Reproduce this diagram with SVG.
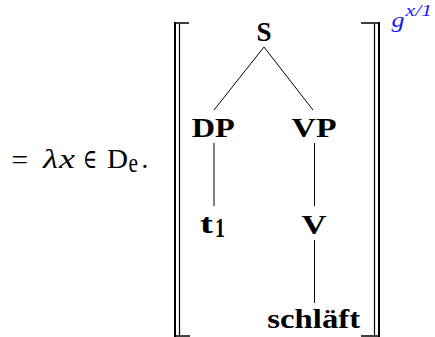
<svg xmlns="http://www.w3.org/2000/svg" width="435" height="337" viewBox="0 0 435 337">
<style>
.m{font-family:"Liberation Serif","DejaVu Serif",serif;fill:#000;font-size:27px}
.b{font-family:"Liberation Serif","DejaVu Serif",serif;font-weight:bold;font-size:28px;fill:#000;text-anchor:middle}
.e{stroke:#000;stroke-width:1;fill:none}
.br{stroke:#000;fill:none;stroke-linecap:butt}
.g{font-family:"Liberation Serif","DejaVu Serif",serif;font-style:italic;fill:#1a1aff}
</style>
<rect width="435" height="337" fill="#fff"/>
<g id="prefix">
<text class="m" x="11.5" y="169" textLength="16.6" lengthAdjust="spacingAndGlyphs">=</text>
<text class="m" x="43" y="168" font-style="italic" textLength="15" lengthAdjust="spacingAndGlyphs">λ</text>
<text class="m" x="59" y="168" font-style="italic" textLength="16" lengthAdjust="spacingAndGlyphs">x</text>
<text class="m" x="83" y="168" textLength="14" lengthAdjust="spacingAndGlyphs">∈</text>
<text class="m" x="107" y="168" textLength="21" lengthAdjust="spacingAndGlyphs">D</text>
<text class="m" x="128.5" y="172" font-size="19" textLength="9.5" lengthAdjust="spacingAndGlyphs">e</text>
<text class="m" x="141.5" y="168">.</text>
</g>
<g id="brackets">
<path class="br" stroke-width="2" d="M175,22 V337"/>
<path class="br" stroke-width="1.2" d="M179.5,24 V335.5"/>
<path class="br" stroke-width="1.6" d="M174,23 H189 M174,336 H190"/>
<path class="br" stroke-width="2" d="M379,22 V337"/>
<path class="br" stroke-width="1.2" d="M374.5,24 V335.5"/>
<path class="br" stroke-width="1.6" d="M361,23 H380 M361,336 H380"/>
</g>
<g id="assignment">
<text class="g" x="391.5" y="27" font-size="22" textLength="13" lengthAdjust="spacingAndGlyphs">g</text>
<text class="g" x="405.5" y="16" font-size="16" textLength="26.5" lengthAdjust="spacingAndGlyphs">x/1</text>
</g>
<g id="connectors">
<line class="e" x1="264" y1="47" x2="214" y2="110"/>
<line class="e" x1="264" y1="47" x2="313" y2="110"/>
<line class="e" x1="214" y1="143" x2="214" y2="206"/>
<line class="e" x1="314.5" y1="143" x2="314.5" y2="206"/>
<line class="e" x1="314.5" y1="240" x2="314.5" y2="303"/>
</g>
<g id="node-S"><text class="b" x="264" y="41" textLength="15" lengthAdjust="spacingAndGlyphs">S</text></g>
<g id="node-DP"><text class="b" x="213.3" y="137" textLength="43" lengthAdjust="spacingAndGlyphs">DP</text></g>
<g id="node-VP"><text class="b" x="314" y="137" textLength="45" lengthAdjust="spacingAndGlyphs">VP</text></g>
<g id="node-t1"><text class="b" x="206.5" y="233" textLength="13" lengthAdjust="spacingAndGlyphs">t</text><text class="b" x="220" y="236.5" font-size="20" textLength="10" lengthAdjust="spacingAndGlyphs">1</text></g>
<g id="node-V"><text class="b" x="314" y="234" textLength="25" lengthAdjust="spacingAndGlyphs">V</text></g>
<g id="node-schlaeft"><text class="b" x="313.7" y="328.3" textLength="92.7" lengthAdjust="spacingAndGlyphs">schläft</text></g>
</svg>
